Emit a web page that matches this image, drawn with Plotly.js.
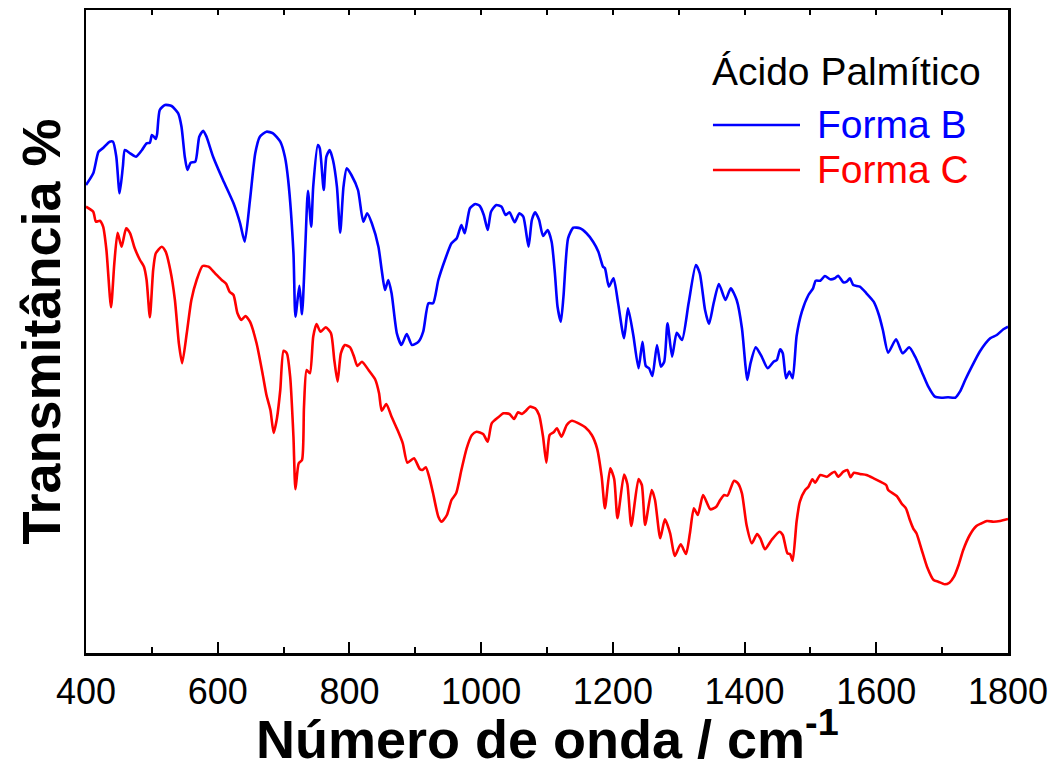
<!DOCTYPE html>
<html>
<head>
<meta charset="utf-8">
<script src="https://cdn.plot.ly/plotly-3.0.1.min.js"></script>
<style>html,body{margin:0;padding:0;background:#fff;}#chart{width:1058px;height:767px;}</style>
</head>
<body>
<div id="chart"></div>
<script>
// Wavenumber (cm-1) and transmittance (arbitrary units)
const wnB = [400,411,419,426,436,441,446,451,456,459,467,476,485,492,497,500,503,506,508,512,520,530,540,545,550,554,559,566,572,578,583,593,608,624,634,641,649,657,664,674,684,695,702,707,715,718,724,728,733,737,742,745,752,755,761,765,770,775,781,786,791,796,803,813,821,827,834,844,849,854,859,864,872,879,887,895,905,912,920,927,935,945,955,963,970,975,983,991,998,1004,1010,1015,1023,1031,1037,1043,1051,1058,1064,1072,1077,1082,1088,1094,1101,1107,1112,1116,1121,1125,1132,1140,1150,1160,1170,1178,1185,1188,1194,1201,1208,1217,1223,1231,1239,1245,1250,1255,1260,1267,1273,1278,1283,1290,1297,1305,1315,1326,1332,1340,1346,1353,1361,1371,1379,1388,1396,1401,1404,1409,1417,1426,1435,1444,1449,1454,1458,1463,1468,1473,1479,1487,1497,1504,1508,1515,1522,1530,1537,1542,1550,1555,1560,1565,1575,1585,1596,1604,1610,1618,1630,1640,1650,1659,1669,1679,1689,1699,1709,1720,1727,1735,1745,1757,1773,1783,1793,1800];
const tB = [468,479.7,501.3,505,511.3,511.3,496.3,459.7,486.3,503,499.7,496.3,503,509.7,510.3,518,516.3,514,519,543,548,547,539.7,526.3,496.3,483,490.3,491.3,516.3,522.3,516.3,496.3,473,449.7,429.7,411.3,453,499.7,516.3,521.3,519.7,511.3,496.3,473,400,336.3,367.3,338.7,406.3,462.3,426.3,466.3,508,504.7,463,496.3,503,493,466.3,420.3,466.3,484.7,478,463,431.3,439.7,429.7,406.3,383,363,373,359.7,319.7,308,319,308,311.3,321.3,349.7,349.7,373,393,409.7,414.7,428,419.7,444.7,449,447,438,423,441.3,448,446.3,438,440.7,430.7,439.7,436.3,406.3,433,440.7,433,417,423,411.3,379.7,346.3,331.3,356.3,414.7,425.3,424.7,419.7,411.3,401.3,386.3,384.7,366.3,374.7,349.7,314.7,344.7,318,284.7,311.3,287,284.7,277,308,286.3,291.3,329.7,296.3,320.3,313,349.7,388,379.7,343,329,349.7,369,353,364.7,353,324.7,289.7,273,289.7,305.7,296.3,284.7,291.3,293,303.7,299.7,274.7,281.5,274.7,317,341.3,358,364.7,372.3,372.3,377,373.7,374.7,377.3,370.7,371.3,374.7,368,366.3,359.7,351.3,338,323,300.3,313.7,299.7,305.7,296.3,281.3,266.3,256.3,255.3,255.7,255.3,261.3,273,286.3,301.3,314.7,318,323.7,326.3];
const wnC = [400,411,415,421,426,431,438,443,448,454,461,467,474,482,488,492,497,502,506,515,521,528,535,541,546,553,560,568,577,586,596,606,613,618,624,630,636,642,649,659,668,674,680,685,690,695,700,705,710,715,718,723,728,731,735,740,745,750,756,764,772,777,782,787,793,801,807,812,819,829,839,845,849,856,864,873,881,888,898,907,911,916,921,927,935,940,948,955,962,970,978,986,993,1003,1010,1016,1026,1034,1043,1050,1056,1062,1068,1074,1082,1088,1094,1099,1104,1110,1115,1122,1130,1138,1148,1158,1168,1176,1183,1188,1196,1202,1207,1217,1222,1228,1239,1244,1249,1259,1264,1272,1279,1287,1294,1303,1311,1317,1323,1329,1337,1348,1357,1363,1369,1374,1384,1390,1396,1403,1411,1419,1424,1431,1441,1453,1458,1465,1469,1473,1479,1484,1492,1497,1503,1507,1515,1525,1532,1537,1542,1550,1556,1561,1566,1575,1585,1596,1606,1615,1618,1631,1639,1645,1651,1656,1661,1669,1677,1687,1694,1704,1711,1718,1725,1732,1742,1752,1760,1768,1778,1788,1800];
const tC = [446.3,441.3,431.3,432.3,426.3,403,345.7,389.7,420.3,406.3,424.7,419.7,404.7,393,386.3,373,335.7,383,399.7,406.3,401.3,383,353,309.7,289.7,319.7,353,373,387,386.3,379.7,373,369,361.3,358,339.7,333,337,331.3,309.7,279.7,258,243,220,235,263,302.3,299.7,276.3,216.3,163.7,189.7,193,246.3,283,279.7,316.3,329,321.3,325.7,319.7,293,271.3,299.7,308,305.7,296.3,287,291.3,283,273.7,259.7,242.3,249,236.3,223,209.7,190.3,194.7,183.7,183,185.7,176.3,159.7,136.3,131.3,138,153,159.7,183,204.7,218,221.3,219,211.3,229.7,235.7,239.7,239,234,240.7,239,242.3,246.3,244.7,238,216.3,190.3,218,220.7,224.7,216.3,228,232.3,229.7,225.7,218,204.7,176.3,144.7,184.7,174,134.7,178.5,169,127,174,168,128,163,153,114.7,133.7,119.7,97,108.7,99,119.7,144.7,138,158,143.7,146.3,153,158,157.3,172.3,169.7,159.7,128,109.7,119,114.7,103.7,113,121.3,118,99.7,99,92.3,131.5,151.3,163,166.3,173.7,170.3,178,176.3,179.7,181.3,176.3,181.3,183,175.7,180.3,179,178,174.7,171.3,168,163,157,149,144.7,133,124.7,119.7,103,86.3,73,71.3,68.7,70.3,76.3,88,103,118,127,129.7,132,131.3,132,134];
const seriesNames = ['Forma B', 'Forma C'];
const seriesColors = ['#0000ff', '#ff0000'];
const legendTitle = 'Ácido Palmítico';
const xTitle = 'Número de onda / cm<sup>-1</sup>';
const yTitle = 'Transmitância %';
const xTicks = [400, 600, 800, 1000, 1200, 1400, 1600, 1800];

const FONT = 'Arial, "Liberation Sans", Helvetica, sans-serif';

const traces = [
  {x: wnB, y: tB, type: 'scatter', mode: 'lines', name: seriesNames[0],
   line: {color: seriesColors[0], width: 2.6, shape: 'spline', smoothing: 0.6}, showlegend: false, hoverinfo: 'x+y'},
  {x: wnC, y: tC, type: 'scatter', mode: 'lines', name: seriesNames[1],
   line: {color: seriesColors[1], width: 2.6, shape: 'spline', smoothing: 0.6}, showlegend: false, hoverinfo: 'x+y'}
];

// legend geometry in paper coords
const legX0 = 0.6768, legLine0 = 0.680, legLine1 = 0.7744, legText = 0.7907;
const legYTitle = 0.9036, legYB = 0.8212, legYC = 0.7512;

const layout = {
  width: 1058, height: 767,
  margin: {l: 86, r: 50, t: 10, b: 114},
  paper_bgcolor: '#ffffff', plot_bgcolor: '#ffffff',
  font: {family: FONT, color: '#000'},
  showlegend: false,
  xaxis: {
    range: [400, 1800], tickvals: xTicks, ticktext: xTicks.map(String),
    ticks: 'inside', ticklen: 11, tickwidth: 2, tickcolor: '#000',
    minor: {dtick: 100, tick0: 400, ticks: 'inside', ticklen: 6, tickwidth: 2, tickcolor: '#000'},
    showline: true, linewidth: 2.5, linecolor: '#000', mirror: true,
    showgrid: false, zeroline: false,
    tickfont: {size: 36, family: FONT, color: '#000'},
    ticklabelstandoff: 5
  },
  xaxis2: {
    overlaying: 'x', side: 'top', range: [400, 1800], dtick: 100, tick0: 400,
    ticks: 'inside', ticklen: 5, tickwidth: 2, tickcolor: '#000',
    showticklabels: false, showline: false, showgrid: false, zeroline: false
  },
  yaxis: {
    range: [0, 643], showticklabels: false, ticks: '',
    showline: true, linewidth: 2.5, linecolor: '#000', mirror: true,
    showgrid: false, zeroline: false,
    title: {text: yTitle, font: {size: 54, family: FONT, weight: 'bold', color: '#000'}, standoff: 6}
  },
  shapes: [
    {type: 'line', xref: 'paper', yref: 'paper', x0: legLine0, x1: legLine1, y0: legYB, y1: legYB, line: {color: seriesColors[0], width: 2.5}},
    {type: 'line', xref: 'paper', yref: 'paper', x0: legLine0, x1: legLine1, y0: legYC, y1: legYC, line: {color: seriesColors[1], width: 2.5}}
  ],
  annotations: [
    {xref: 'paper', yref: 'paper', x: 0.5, y: -0.127, xanchor: 'center', yanchor: 'middle', showarrow: false, text: xTitle, font: {size: 54, family: FONT, weight: 'bold', color: '#000'}},
    {xref: 'paper', yref: 'paper', x: legX0, y: legYTitle, xanchor: 'left', yanchor: 'middle', showarrow: false, text: legendTitle, font: {size: 39, family: FONT, color: '#000'}},
    {xref: 'paper', yref: 'paper', x: legText, y: legYB, xanchor: 'left', yanchor: 'middle', showarrow: false, text: seriesNames[0], font: {size: 39, family: FONT, color: seriesColors[0]}},
    {xref: 'paper', yref: 'paper', x: legText, y: legYC, xanchor: 'left', yanchor: 'middle', showarrow: false, text: seriesNames[1], font: {size: 39, family: FONT, color: seriesColors[1]}}
  ]
};

// empty trace that activates the top minor-tick axis
traces.push({x: [400, 1800], y: [null, null], xaxis: 'x2', yaxis: 'y', type: 'scatter', mode: 'lines', showlegend: false, hoverinfo: 'skip'});

Plotly.newPlot('chart', traces, layout, {staticPlot: true, displayModeBar: false});
</script>
</body>
</html>
